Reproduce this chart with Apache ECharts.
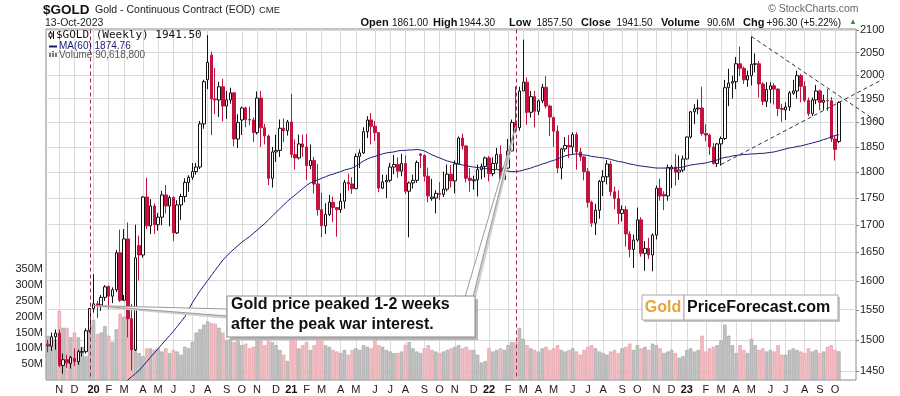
<!DOCTYPE html>
<html><head><meta charset="utf-8">
<script src="https://cdn.jsdelivr.net/npm/echarts@6/dist/echarts.min.js"></script>
<style>html,body{margin:0;padding:0;background:#fff}#c{width:900px;height:396px}</style>
</head><body><div id="c"></div>
<script>
// ---- DATA (weekly, week ending Friday, first week 2019-10-18) ----
const firstWeek = '2019-10-18';
const openP = [1493,1490,1505,1511,1459,1468,1462,1470,1465,1480,1481,1515,1552,1560,1558,1571,1590,1573,1584,1649,
1566,1674,1535,1484,1662,1645,1752,1698,1735,1700,1714,1756,1735,1751,1685,1737,1753,1780,1790,1801,
1810,1897,1990,2044,1949,1947,1975,1934,1947,1962,1866,1905,1930,1906,1905,1879,1951,1889,1872,1788,
1840,1843,1888,1883,1901,1835,1828,1856,1850,1813,1823,1777,1728,1698,1719,1742,1732,1728,1744,1780,
1777,1768,1831,1838,1881,1905,1892,1879,1769,1781,1784,1810,1815,1802,1817,1763,1779,1784,1836,1833,
1792,1749,1750,1759,1757,1767,1796,1783,1816,1868,1852,1788,1783,1785,1805,1811,1828,1797,1817,1835,
1786,1808,1842,1900,1889,1966,1985,1921,1954,1923,1945,1974,1934,1910,1882,1808,1846,1853,1850,1875,
1840,1830,1801,1742,1703,1727,1782,1791,1816,1762,1749,1721,1728,1683,1655,1672,1709,1648,1657,1645,
1681,1769,1757,1754,1806,1810,1800,1804,1826,1870,1922,1928,1930,1877,1874,1850,1817,1856,1867,1973,
1983,1986,2025,2015,1990,1999,2024,2025,1981,1944,1969,1977,1970,1929,1926,1932,1961,1966,1999,1976,
1946,1918,1947,1966,1942,1946,1945,1866,1861];
const highP = [1500,1512,1517,1517,1478,1476,1474,1486,1484,1488,1519,1553,1611,1565,1575,1592,1591,1588,1654,1691,
1692,1704,1560,1700,1680,1754,1789,1748,1740,1722,1764,1775,1755,1753,1746,1758,1788,1794,1818,1818,
1903,1990,2089,2052,2016,1986,1992,1966,1973,1963,1917,1933,1933,1933,1910,1965,1966,1897,1875,1850,
1875,1906,1908,1905,1960,1865,1875,1875,1876,1855,1830,1816,1760,1740,1756,1753,1733,1759,1785,1797,
1790,1837,1845,1890,1913,1919,1903,1880,1795,1795,1818,1834,1829,1836,1833,1782,1795,1823,1837,1835,
1809,1787,1765,1781,1801,1815,1814,1823,1871,1877,1853,1808,1793,1815,1817,1831,1832,1829,1848,1853,
1812,1866,1906,1976,1975,2079,1995,1966,1966,1948,1981,1998,1937,1912,1894,1848,1870,1874,1880,1880,
1848,1832,1808,1745,1739,1785,1804,1824,1822,1772,1765,1736,1735,1688,1682,1732,1714,1670,1676,1684,
1774,1787,1763,1815,1814,1836,1833,1833,1871,1924,1938,1948,1975,1896,1877,1858,1858,1871,1990,2014,
1999,2040,2063,2019,2010,2085,2048,2031,1985,1985,1985,1983,1972,1939,1942,1966,1990,2010,2003,1987,
1952,1952,1979,1969,1958,1970,1953,1872,1944.3];
const lowP = [1480,1482,1484,1456,1446,1455,1454,1458,1460,1473,1478,1512,1545,1536,1548,1565,1551,1561,1580,1563,
1575,1504,1451,1482,1600,1640,1692,1683,1683,1689,1699,1721,1697,1670,1683,1709,1742,1762,1785,1795,
1806,1887,1970,1874,1917,1911,1902,1907,1939,1851,1848,1874,1890,1894,1860,1875,1850,1855,1775,1770,
1820,1830,1860,1873,1828,1805,1825,1830,1785,1806,1759,1717,1677,1683,1716,1705,1678,1722,1730,1764,
1758,1767,1808,1836,1868,1855,1862,1761,1767,1750,1780,1796,1789,1792,1758,1677,1768,1779,1808,1782,
1742,1745,1721,1746,1752,1763,1770,1759,1815,1845,1780,1762,1766,1753,1786,1790,1782,1792,1806,1780,
1780,1806,1841,1878,1883,1966,1895,1910,1890,1915,1940,1929,1872,1850,1798,1786,1840,1828,1836,1805,
1822,1784,1732,1696,1681,1711,1754,1776,1754,1729,1701,1706,1660,1641,1622,1669,1642,1617,1638,1616,
1673,1745,1727,1745,1769,1774,1785,1800,1825,1867,1897,1917,1873,1861,1834,1815,1810,1813,1864,1934,
1950,1970,1998,1981,1975,1978,2006,1952,1936,1932,1940,1937,1913,1901,1905,1924,1958,1950,1942,1942,
1913,1913,1938,1925,1926,1924,1860,1823,1857.5];
const closeP = [1490,1505,1511,1459,1468,1463,1472,1465,1481,1481,1515,1552,1560,1558,1571,1589,1573,1584,1649,1566,
1674,1535,1484,1640,1645,1752,1698,1735,1700,1714,1756,1735,1751,1685,1737,1753,1780,1790,1801,1810,
1897,1986,2028,1949,1947,1975,1934,1947,1962,1866,1900,1930,1906,1905,1879,1951,1889,1872,1788,1840,
1843,1888,1883,1901,1835,1828,1856,1850,1813,1823,1777,1728,1698,1719,1742,1732,1728,1744,1780,1777,
1768,1831,1838,1881,1905,1892,1879,1769,1781,1784,1810,1815,1802,1817,1763,1779,1784,1819,1833,1792,
1754,1752,1759,1757,1767,1796,1783,1816,1868,1852,1788,1784,1785,1805,1811,1828,1797,1817,1835,1786,
1808,1842,1900,1889,1966,1985,1921,1954,1923,1945,1974,1934,1911,1882,1808,1846,1853,1850,1875,1840,
1830,1801,1742,1703,1727,1782,1791,1816,1762,1749,1721,1728,1683,1655,1672,1709,1648,1657,1645,1681,
1769,1754,1754,1809,1810,1800,1804,1826,1870,1922,1928,1930,1877,1874,1850,1817,1856,1867,1973,1983,
1986,2025,2015,1990,1999,2024,2025,1981,1944,1969,1977,1970,1929,1927,1932,1962,1966,1999,1976,1946,
1918,1947,1966,1942,1946,1945,1866,1845,1941.5];
const volumeM = [140,130,128,219,165,165,135,150,135,105,75,
175,190,145,150,170,140,120,160,210,
200,250,160,110,85,
75,100,100,95,100,90,100,85,95,90,80,105,100,
120,150,160,175,185,180,178,165,150,125,130,120,145,
110,115,100,105,130,125,110,145,120,110,95,80,60,
150,130,100,110,120,95,110,135,130,110,105,95,90,
85,95,80,95,100,95,110,105,100,140,110,105,95,
90,85,85,90,110,120,100,90,85,100,110,95,90,
85,90,95,100,105,110,100,105,95,95,80,55,60,
100,90,95,100,95,110,120,120,165,130,110,100,95,
90,100,105,95,100,110,95,90,95,100,90,80,95,
105,110,100,90,85,80,90,95,85,100,105,115,95,
110,100,105,95,115,110,100,85,90,95,85,70,75,
95,100,90,95,140,90,100,105,110,125,175,140,110,
85,110,95,85,130,110,95,100,90,95,90,110,80,
80,95,100,95,90,85,100,90,95,85,90,105,110,
95,90.6188];
const ma60 = [null,null,null,null,null,null,null,null,null,null,null,null,null,null,null,null,null,null,null,
1422,1429,1436,1441,1446,1451,1458,1465,1472,1479,1486,1493,1500,1507,1514,1522,1530,1538,1550,1562,1572,
1582,1591,1600,1609,1618,1627,1636,1643,1650,1656,1662,1668,1673,1678,1684,1690,1696,1702,1709,1716,
1723,1730,1737,1744,1750,1756,1762,1768,1774,1779,1782,1785,1788,1791,1794,1796,1799,1801,1804,1806,
1808,1812,1817,1822,1826,1829,1831,1834,1836,1838,1839,1840,1842,1843,1843,1844,1844,1845,1844,1842,
1838,1834,1831,1828,1825,1822,1820,1818,1816,1814,1813,1811,1810,1809,1808,1807,1806,1805,1805,1804,
1803,1802,1801,1801,1802,1804,1806,1808,1811,1813,1816,1818,1821,1823,1826,1829,1832,1834,1835,1836,
1835,1834,1833,1831,1830,1829,1828,1827,1825,1823,1821,1820,1818,1816,1815,1813,1812,1811,1810,1809,
1808,1808,1808,1808,1808,1808,1809,1810,1812,1814,1815,1816,1817,1818,1820,1822,1824,1827,1829,1830,
1832,1833,1834,1835,1835,1836,1836,1837,1837,1838,1839,1840,1842,1844,1846,1848,1849,1851,1852,1854,
1856,1858,1860,1862,1865,1867,1871,1873,1874.76];
const priceTicks = [1450,1500,1550,1600,1650,1700,1750,1800,1850,1900,1950,2000,2050,2100];
const volumeTickMaxM = 350;
const monthLetters = ['J','F','M','A','M','J','J','A','S','O','N','D'];
const eventWeeks = ['2020-01-03','2022-02-25'];
// annotation anchors [week index, price]
const trendDown = [[185,2086],[206,1967]];
const trendUp = [[177,1815],[205,1929]];
const pointerLeftTip = [12,1557];
const pointerRightTip = [123,1892];

// ---- BUILD ----
const N = closeP.length;
const PAD = 4;
const DAY = 864e5;
const t0 = Date.parse(firstWeek + 'T00:00:00Z');
const cats = [];
const labelIdx = {};
let prevM = null;
for (let i = 0; i < N + PAD; i++) {
  const d = new Date(t0 + i * 7 * DAY);
  cats.push(d.toISOString().slice(0, 10));
  const mon = new Date(t0 + i * 7 * DAY - 4 * DAY);
  const m = mon.getUTCMonth();
  if (prevM !== null && m !== prevM && i < N) {
    labelIdx[i] = m === 0 ? '{y|' + String(mon.getUTCFullYear()).slice(2) + '}' : monthLetters[m];
  }
  prevM = m;
}
const isLab = (i) => labelIdx[i] !== undefined;
const ohlc = openP.map((o, i) => [o, closeP[i], lowP[i], highP[i]]);
const volData = volumeM.map((v, i) => {
  const down = i > 0 && closeP[i] < closeP[i - 1];
  return { value: v * 1e6, itemStyle: down ? { color: '#f3bcc1', borderColor: '#de98a1', borderWidth: 0.6 } : { color: '#c2c2c2', borderColor: '#9d9d9d', borderWidth: 0.6 } };
});

const FONT = '"Liberation Sans", Arial, sans-serif';
const GRID_LS = { color: '#dadada', type: 'solid', width: 1 };
const chart = echarts.init(document.getElementById('c'), null, { renderer: 'canvas' });
chart.setOption({
  animation: false,
  backgroundColor: '#fff',
  grid: { left: 46, top: 29, right: 44, bottom: 16, show: true, borderColor: '#8a8a8a', borderWidth: 1, backgroundColor: '#fff' },
  xAxis: {
    type: 'category', data: cats, boundaryGap: true,
    axisLine: { show: false }, axisTick: { show: false },
    axisLabel: { interval: isLab, formatter: (v, i) => labelIdx[i] || '', color: '#222', fontSize: 11, margin: 4, fontFamily: FONT,
      rich: { y: { fontWeight: 'bold', fontSize: 11, color: '#111', fontFamily: FONT } } },
    splitLine: { show: true, interval: isLab, alignWithLabel: true, lineStyle: { color: '#dadada', width: 1 } }
  },
  yAxis: [
    { type: 'log', logBase: 10, min: 1436, max: 2103, position: 'right', axisLine: { show: false }, axisTick: { show: false }, axisLabel: { show: false }, splitLine: { show: false } },
    { type: 'value', min: 0, max: 1110e6, interval: 50e6, position: 'left', axisLine: { show: false }, axisTick: { show: false }, splitLine: { show: false },
      axisLabel: { formatter: v => (v > 0 && v <= volumeTickMaxM * 1e6) ? (v / 1e6) + 'M' : '', color: '#222', fontSize: 11, margin: 3, fontFamily: FONT } }
  ],
  series: [
    { type: 'bar', name: 'Volume', yAxisIndex: 1, data: volData, barWidth: 3.4, z: 2, silent: true },
    { type: 'candlestick', name: '$GOLD', yAxisIndex: 0, data: ohlc, barWidth: 3, z: 3,
      itemStyle: { color: '#ffffff', color0: '#c4123f', borderColor: '#111111', borderColor0: '#c4123f', borderWidth: 1 } },
    { type: 'line', name: 'MA(60)', yAxisIndex: 0, data: ma60, symbol: 'none', z: 4,
      lineStyle: { color: '#1c1c7a', width: 1 },
      markLine: { silent: true, symbol: ['none', 'none'], z: 1,
        lineStyle: GRID_LS,
        label: { show: true, position: 'end', formatter: '{c}', distance: 4, color: '#222', fontSize: 11, fontFamily: FONT },
        data: priceTicks.map(v => ({ yAxis: v, lineStyle: GRID_LS })) } }
  ]
});

// ---- ANNOTATIONS ----
const px = (a) => chart.convertToPixel({ seriesIndex: 1 }, a);
function extend(A, B, xEnd) {
  const p1 = px(A), p2 = px(B);
  const k = (p2[1] - p1[1]) / (p2[0] - p1[0]);
  return [p1[0], p1[1], xEnd, p1[1] + k * (xEnd - p1[0])];
}
const dn = extend(trendDown[0], trendDown[1], 883);
const up = extend(trendUp[0], trendUp[1], 883);
const tipL = px(pointerLeftTip);
const tipR = px(pointerRightTip);
const T = (x, y, text, font, fill, align) => ({ type: 'text', x, y, silent: true, z: 100,
  style: { text, font, fill: fill || '#111', align: align || 'left', verticalAlign: 'middle' } });
const g = [];
// event (war) marker lines
eventWeeks.forEach(w => { const x = Math.round(px([cats.indexOf(w), 1800])[0]) + 0.5;
  g.push({ type: 'line', silent: true, z: 60, shape: { x1: x, y1: 29.5, x2: x, y2: 379.5 },
    style: { stroke: '#a3264f', lineWidth: 1, lineDash: [4, 3] } }); });
// right-axis tick marks
priceTicks.forEach(v => { const y = Math.round(px([0, v])[1]) + 0.5;
  g.push({ type: 'line', silent: true, z: 50, shape: { x1: 856, y1: y, x2: 859, y2: y }, style: { stroke: '#8a8a8a', lineWidth: 1 } }); });
// header
g.push(T(43, 10, '$GOLD', 'bold 13.5px ' + FONT));
g.push(T(95, 10, 'Gold - Continuous Contract (EOD)', '10.5px ' + FONT, '#222'));
g.push(T(259, 10.5, 'CME', '9.5px ' + FONT, '#222'));
g.push(T(45, 23, '13-Oct-2023', '10.5px ' + FONT, '#222'));
g.push(T(768, 9, '\u00a9 StockCharts.com', '10.5px ' + FONT, '#666'));
const info = [['Open', 360.5, 1], ['1861.00', 392, 0], ['High', 433, 1], ['1944.30', 459, 0], ['Low', 509, 1], ['1857.50', 536.5, 0],
  ['Close', 581, 1], ['1941.50', 616.5, 0], ['Volume', 661, 1], ['90.6M', 707, 0], ['Chg', 743, 1], ['+96.30 (+5.22%)', 766.5, 0]];
info.forEach(([t, x, b]) => g.push(T(x, 23, t, b ? 'bold 11px ' + FONT : '10px ' + FONT, '#111')));
g.push(T(849, 22, '\u25b2', '8px ' + FONT, '#2e9a2e'));
// legend in plot
g.push({ type: 'group', silent: true, z: 100, children: [
  { type: 'line', shape: { x1: 50.5, y1: 31, x2: 50.5, y2: 39 }, style: { stroke: '#111', lineWidth: 1 } },
  { type: 'rect', shape: { x: 49, y: 33, width: 3, height: 4 }, style: { fill: '#fff', stroke: '#111', lineWidth: 1 } },
  { type: 'line', shape: { x1: 53.5, y1: 31, x2: 53.5, y2: 39 }, style: { stroke: '#111', lineWidth: 1 } },
  { type: 'line', shape: { x1: 49, y1: 46.5, x2: 57, y2: 46.5 }, style: { stroke: '#1c1c7a', lineWidth: 2 } },
  { type: 'rect', shape: { x: 49, y: 53, width: 2, height: 4 }, style: { fill: '#777' } },
  { type: 'rect', shape: { x: 52, y: 51, width: 2, height: 6 }, style: { fill: '#777' } },
  { type: 'rect', shape: { x: 55, y: 52, width: 2, height: 5 }, style: { fill: '#777' } }
] });
g.push(T(56, 35.5, '$GOLD (Weekly) 1941.50', '11px "DejaVu Sans Mono", monospace', '#111'));
g.push(T(59, 46.5, 'MA(60) 1874.76', '10px ' + FONT, '#1c1c7a'));
g.push(T(59, 55.5, 'Volume 90,618,800', '10px ' + FONT, '#555'));
// trend lines
[dn, up].forEach(s => g.push({ type: 'line', silent: true, z: 90, shape: { x1: s[0], y1: s[1], x2: s[2], y2: s[3] },
  style: { stroke: '#333', lineWidth: 1, lineDash: [4, 3] } }));
// callout pointers
g.push({ type: 'polygon', silent: true, z: 91, shape: { points: [[tipL[0] + 1, tipL[1] + 1.5], [230, 311], [230, 319]] }, style: { fill: '#cfcfcf' } });
g.push({ type: 'polygon', silent: true, z: 92, shape: { points: [tipL, [227, 309], [227, 316]] }, style: { fill: 'rgba(255,255,255,0.9)', stroke: '#9a9a9a', lineWidth: 1 } });
g.push({ type: 'polygon', silent: true, z: 91, shape: { points: [[tipR[0] + 1.5, tipR[1] + 1], [468, 298], [476, 298]] }, style: { fill: '#cfcfcf' } });
g.push({ type: 'polygon', silent: true, z: 92, shape: { points: [tipR, [465, 297], [473, 297]] }, style: { fill: 'rgba(255,255,255,0.9)', stroke: '#9a9a9a', lineWidth: 1 } });
// callout box
g.push({ type: 'rect', silent: true, z: 93, shape: { x: 230, y: 299, width: 248, height: 41 }, style: { fill: '#b5b5b5' } });
g.push({ type: 'rect', silent: true, z: 94, shape: { x: 227, y: 296, width: 248, height: 41 }, style: { fill: '#fff', stroke: '#8a8a8a', lineWidth: 1 } });
g.push(T(231, 305, 'Gold price peaked 1-2 weeks', 'bold 16px ' + FONT, '#111'));
g.push(T(231, 325, 'after the peak war interest.', 'bold 16px ' + FONT, '#111'));
// GoldPriceForecast logo box
g.push({ type: 'rect', silent: true, z: 93, shape: { x: 644, y: 297, width: 196, height: 25 }, style: { fill: '#c4c4c4' } });
g.push({ type: 'rect', silent: true, z: 94, shape: { x: 642, y: 295, width: 42, height: 25 }, style: { fill: '#fff', stroke: '#a8a8a8', lineWidth: 1 } });
g.push({ type: 'rect', silent: true, z: 94, shape: { x: 684, y: 295, width: 154, height: 25 }, style: { fill: '#fff', stroke: '#a8a8a8', lineWidth: 1 } });
g.push(T(663, 308, 'Gold', 'bold 16px ' + FONT, '#e8a23a', 'center'));
g.push(T(687, 308, 'PriceForecast.com', 'bold 16px ' + FONT, '#111'));
chart.setOption({ graphic: g });
</script>
</body></html>
